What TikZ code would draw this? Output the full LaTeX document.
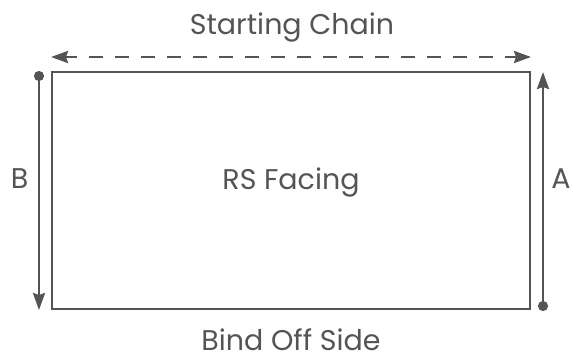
\documentclass[tikz,border=0pt]{standalone}
\usepackage{fontspec}
\setmainfont{Poppins}
\usetikzlibrary{arrows.meta}
\definecolor{ink}{HTML}{545456}
\begin{document}
\begin{tikzpicture}[x=1pt,y=-1pt,
  lbl/.style={text=ink,font=\fontsize{28.5}{32}\selectfont,inner sep=0pt,anchor=base,text depth=0pt},
  edge/.style={draw=ink,line width=2.6pt},
  both/.style={{Stealth[length=17pt,width=12pt,inset=2pt]}-{Stealth[length=17pt,width=12pt,inset=2pt]}},
  dotstart/.style={{Circle[length=10pt]}-{Stealth[length=17pt,width=12pt,inset=2pt]}}]
\useasboundingbox (0,0) rectangle (573,360);
\node[edge,minimum width=478pt,minimum height=237pt,inner sep=0pt] (box) at (291,190.5) {};
\coordinate (tl) at (51,57);
\coordinate (tr) at (531,57);
\draw[edge,both,dash pattern=on 14pt off 12pt,dash phase=2pt] (tl) -- (tr);
\coordinate (bs) at (39,71);
\coordinate (be) at (39,310);
\coordinate (as) at (543,311);
\coordinate (ae) at (543,72);
\draw[edge,dotstart] (bs) -- (be);
\draw[edge,dotstart] (as) -- (ae);
\node[lbl] (top) at (292,34) {Starting Chain};
\node[lbl] (mid) at (291,189) {RS Facing};
\node[lbl] (bot) at (291,350) {Bind Off Side};
\node[lbl] (b) at (19.5,188) {B};
\node[lbl] (a) at (561,188) {A};
\end{tikzpicture}
\end{document}
